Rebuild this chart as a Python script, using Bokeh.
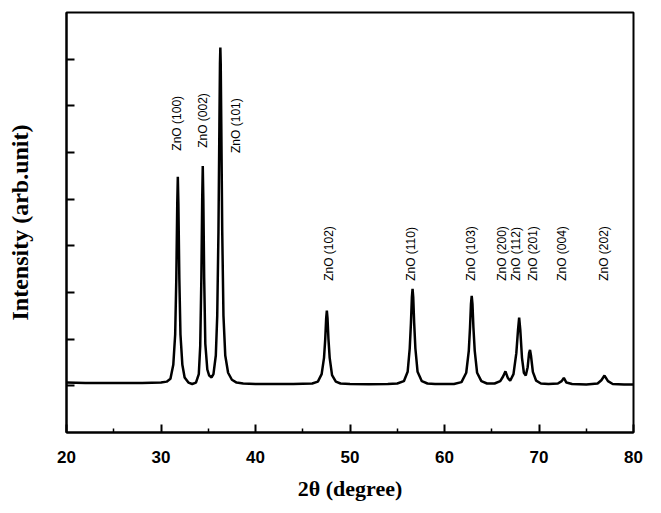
from math import pi
from bokeh.plotting import figure
from bokeh.models import FixedTicker, Range1d, ColumnDataSource, CustomJSTickFormatter
from bokeh.core.properties import value
from bokeh.embed import file_html
from bokeh.resources import INLINE

# XRD pattern (2-theta in degrees, intensity in arb. units)
two_theta = [20.0, 21.0, 22.0, 23.0, 24.0, 25.0, 26.0, 27.0, 28.0, 29.0, 30.0, 30.6, 31.0,
             31.3, 31.5, 31.62, 31.72, 31.78, 31.84, 31.94, 32.06, 32.26, 32.5, 32.9, 33.3, 33.7,
             34.0, 34.15, 34.27, 34.36, 34.42, 34.48, 34.57, 34.69, 34.9, 35.1, 35.35, 35.55, 35.8,
             35.95, 36.08, 36.18, 36.24, 36.28, 36.32, 36.38, 36.48, 36.61, 36.8, 37.1, 37.5, 38.0,
             38.7, 40.0, 42.0, 44.0, 46.0, 46.6, 47.0, 47.25, 47.38, 47.48, 47.55, 47.62, 47.72,
             47.85, 48.1, 48.5, 49.0, 50.0, 52.0, 54.0, 55.0, 55.7, 56.1, 56.32, 56.45, 56.55,
             56.62, 56.69, 56.79, 56.92, 57.15, 57.6, 58.2, 59.0, 60.0, 61.0, 61.8, 62.3, 62.57,
             62.7, 62.8, 62.88, 62.96, 63.06, 63.2, 63.45, 63.9, 64.5, 65.3, 65.9, 66.2, 66.45,
             66.7, 66.95, 67.3, 67.6, 67.78, 67.9, 68.02, 68.2, 68.4, 68.6, 68.8, 68.95, 69.05,
             69.15, 69.35, 69.7, 70.2, 71.0, 72.0, 72.4, 72.63, 72.9, 73.5, 75.0, 76.2, 76.6,
             76.93, 77.3, 77.8, 79.0, 80.0]
intensity = [0.07, 0.065, 0.06, 0.06, 0.06, 0.06, 0.06, 0.06, 0.06, 0.065, 0.07, 0.09, 0.15,
             0.45, 1.1, 2.3, 3.9, 4.48, 3.9, 2.3, 1.1, 0.45, 0.18, 0.07, 0.04, 0.07,
             0.25, 0.85, 2.3, 4.0, 4.71, 4.0, 2.3, 0.9, 0.35, 0.22, 0.18, 0.25, 0.65,
             1.5, 3.3, 5.6, 6.9, 7.25, 6.9, 5.6, 3.3, 1.5, 0.65, 0.28, 0.13, 0.07,
             0.05, 0.04, 0.04, 0.04, 0.05, 0.09, 0.25, 0.6, 1.0, 1.45, 1.61, 1.45, 1.0,
             0.6, 0.23, 0.09, 0.05, 0.04, 0.035, 0.04, 0.05, 0.1, 0.3, 0.8, 1.35, 1.9,
             2.08, 1.9, 1.35, 0.8, 0.3, 0.1, 0.05, 0.04, 0.04, 0.04, 0.08, 0.28, 0.75,
             1.25, 1.75, 1.93, 1.75, 1.25, 0.75, 0.28, 0.1, 0.05, 0.05, 0.1, 0.2, 0.31,
             0.17, 0.11, 0.25, 0.7, 1.2, 1.46, 1.2, 0.6, 0.28, 0.22, 0.4, 0.7, 0.77,
             0.65, 0.3, 0.11, 0.05, 0.04, 0.05, 0.1, 0.17, 0.07, 0.04, 0.03, 0.05, 0.12,
             0.22, 0.1, 0.04, 0.03, 0.03]

# Peak annotations
peak_labels = ["ZnO (100)", "ZnO (002)", "ZnO (101)", "ZnO (102)", "ZnO (110)", "ZnO (103)",
               "ZnO (200)", "ZnO (112)", "ZnO (201)", "ZnO (004)", "ZnO (202)"]
label_theta = [31.68, 34.43, 37.95, 47.76, 56.5, 62.8, 66.06, 67.6, 69.37, 72.44, 76.86]
label_level = [5.04, 5.10, 4.99, 2.25, 2.25, 2.25, 2.25, 2.25, 2.25, 2.25, 2.25]

x_ticks = [20, 30, 40, 50, 60, 70, 80]
x_minor = [25, 35, 45, 55, 65, 75]
y_ticks = [0, 1, 2, 3, 4, 5, 6, 7]

p = figure(width=661, height=513, output_backend="svg", toolbar_location=None,
           x_range=Range1d(20, 80), y_range=Range1d(-1, 8),
           min_border_left=66, min_border_right=28, min_border_top=12, min_border_bottom=81)

p.line(two_theta, intensity, line_color="black", line_width=2.5)

src = ColumnDataSource(dict(x=label_theta, y=label_level, t=peak_labels))
p.text(x="x", y="y", text="t", source=src, angle=pi / 2, text_align="left",
       text_baseline="middle", text_font=value("Liberation Sans"),
       text_font_size="12px", text_color="black")

p.xgrid.visible = False
p.ygrid.visible = False
p.outline_line_color = "black"
p.outline_line_width = 2
p.outline_line_alpha = 1
p.background_fill_color = "white"
p.border_fill_color = "white"

xa = p.xaxis[0]
xa.ticker = FixedTicker(ticks=x_ticks, minor_ticks=x_minor)
xa.axis_line_color = "black"
xa.axis_line_width = 2
xa.major_tick_in = 8
xa.major_tick_out = 0
xa.minor_tick_in = 4
xa.minor_tick_out = 0
xa.major_tick_line_width = 2
xa.minor_tick_line_width = 1.5
xa.major_label_text_font = "Liberation Sans"
xa.major_label_text_font_style = "bold"
xa.major_label_text_font_size = "17px"
xa.major_label_text_color = "black"
xa.major_label_standoff = 18
xa.axis_label = "2θ (degree)"
xa.axis_label_text_font = "Liberation Serif"
xa.axis_label_text_font_style = "bold"
xa.axis_label_text_font_size = "22px"
xa.axis_label_text_color = "black"
xa.axis_label_standoff = 10

ya = p.yaxis[0]
ya.ticker = FixedTicker(ticks=y_ticks, minor_ticks=[])
ya.formatter = CustomJSTickFormatter(code="return '';")
ya.axis_line_color = "black"
ya.axis_line_width = 2
ya.major_tick_in = 8
ya.major_tick_out = 0
ya.major_tick_line_width = 2
ya.minor_tick_in = 0
ya.minor_tick_out = 0
ya.major_label_standoff = 0
ya.axis_label = "Intensity (arb.unit)"
ya.axis_label_text_font = "Liberation Serif"
ya.axis_label_text_font_style = "bold"
ya.axis_label_text_font_size = "24px"
ya.axis_label_text_color = "black"
ya.axis_label_standoff = 34

open("out.html", "w").write(file_html(p, INLINE))
